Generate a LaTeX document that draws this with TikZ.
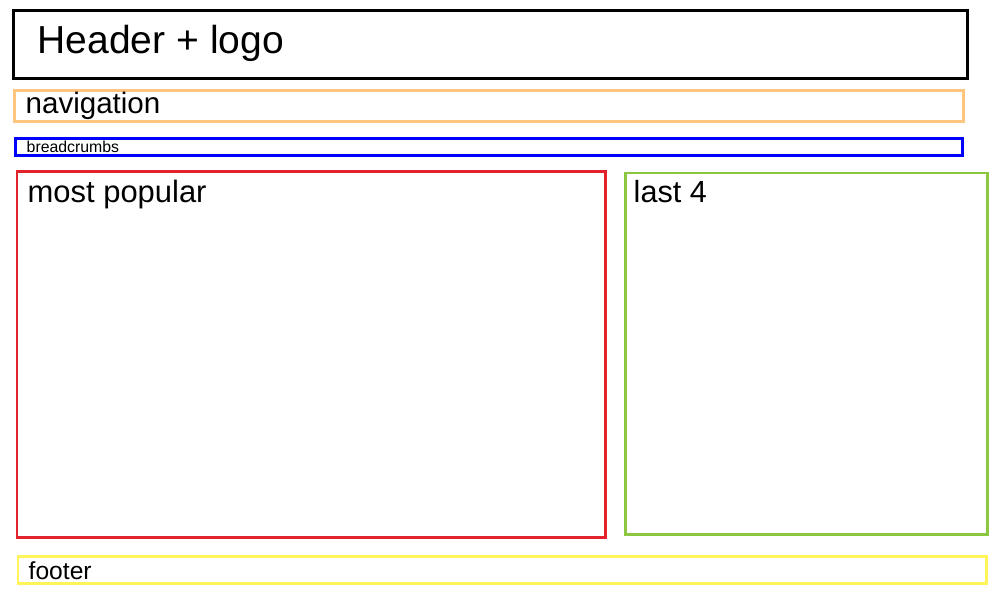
\documentclass[tikz,border=0pt]{standalone}
\usepackage{fontspec}
\setmainfont{Liberation Sans}
\usepackage{tikz}
\usetikzlibrary{positioning}
\definecolor{NavOrange}{HTML}{FFC57F}
\definecolor{CrumbBlue}{HTML}{0000FF}
\definecolor{PopRed}{HTML}{E3232B}
\definecolor{LastGreen}{HTML}{8DC63F}
\definecolor{FootYellow}{HTML}{FFF55A}

\begin{document}
\begin{tikzpicture}[
  x=0.01cm, y=-0.01cm,
  region/.style={draw, line width=0.85pt},
  lbl/.style={anchor=base west, inner sep=0pt, text=black},
]
\useasboundingbox (0,0) rectangle (1000,600);

\draw[region, black]      (13.5,10.5)  rectangle (967.5,78.5);
\draw[region, NavOrange]  (14.5,90.5)  rectangle (963.5,121.5);
\draw[region, CrumbBlue]  (15.5,138.5) rectangle (962.5,155.5);
\draw[region, PopRed]     (17,171.5)   rectangle (605.5,537.5);
\draw[region, LastGreen]  (625,173)    rectangle (987.5,534.5);
\draw[region, FootYellow] (18,556)     rectangle (986,583.5);

\node[lbl, font=\fontsize{11.1pt}{13pt}\selectfont] (header) at (37,54) {Header + logo};
\node[lbl, font=\fontsize{8.4pt}{10pt}\selectfont] (nav) at (25,113) {navigation};
\node[lbl, font=\fontsize{4.5pt}{5.5pt}\selectfont] (crumbs) at (26,152.5) {breadcrumbs};
\node[lbl, font=\fontsize{8.8pt}{10.5pt}\selectfont] (popular) at (27,202.5) {most popular};
\node[lbl, font=\fontsize{8.7pt}{10.5pt}\selectfont] (last) at (633,202.5) {last 4};
\node[lbl, font=\fontsize{7pt}{8.5pt}\selectfont] (footer) at (28,579) {footer};

\end{tikzpicture}
\end{document}
